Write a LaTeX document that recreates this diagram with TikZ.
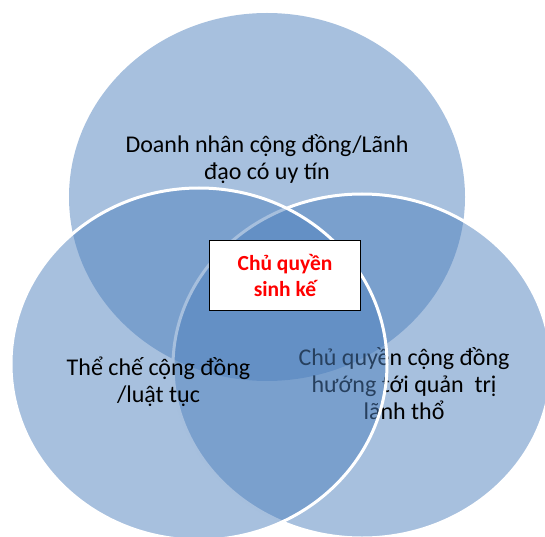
\documentclass[tikz,border=0pt]{standalone}
\usepackage{fontspec}
\setmainfont{Carlito}
\definecolor{vennblue}{HTML}{4F81BD}
\tikzset{
	vennset/.style={fill=vennblue,fill opacity=0.5},
	vennrim/.style={draw=white,line width=3pt},
	venntext/.style={align=center,inner sep=0pt,font=\fontsize{24}{27}\selectfont},
	corebox/.style={draw=black,fill=white,line width=1pt,minimum width=150.8pt,minimum height=70.4pt,
		align=center,text=red,font=\bfseries\fontsize{21.5}{26}\selectfont}
}

\begin{document}
\begin{tikzpicture}[x=1pt,y=1pt]

	%\draw[help lines,step=50] (0,0) grid (545,536);
	\useasboundingbox (0,0) rectangle (545,536);

	% top set
	\fill[vennset] (267,339) ellipse [x radius=198,y radius=184];
	\node[venntext] (leader) at (267,376.5) {Doanh nhân cộng đồng/Lãnh\\đạo có uy tín};

	% right set
	\fill[vennset] (362,170) ellipse [x radius=189,y radius=172];
	\draw[vennrim] (362,170) ellipse [x radius=189,y radius=172];
	\node[venntext] (territory) at (404,152) {Chủ quyền cộng đồng\\hướng tới quản~ trị\\lãnh thổ};

	% left set
	\fill[vennset] (199,172) ellipse [x radius=188,y radius=176];
	\draw[vennrim] (199,172) ellipse [x radius=188,y radius=176];
	\node[venntext] (custom) at (158.5,154) {Thể chế cộng đồng\\/luật tục};

	% centre
	\node[corebox] (core) at (285,260.8) {Chủ quyền\\sinh kế};

\end{tikzpicture}
\end{document}
